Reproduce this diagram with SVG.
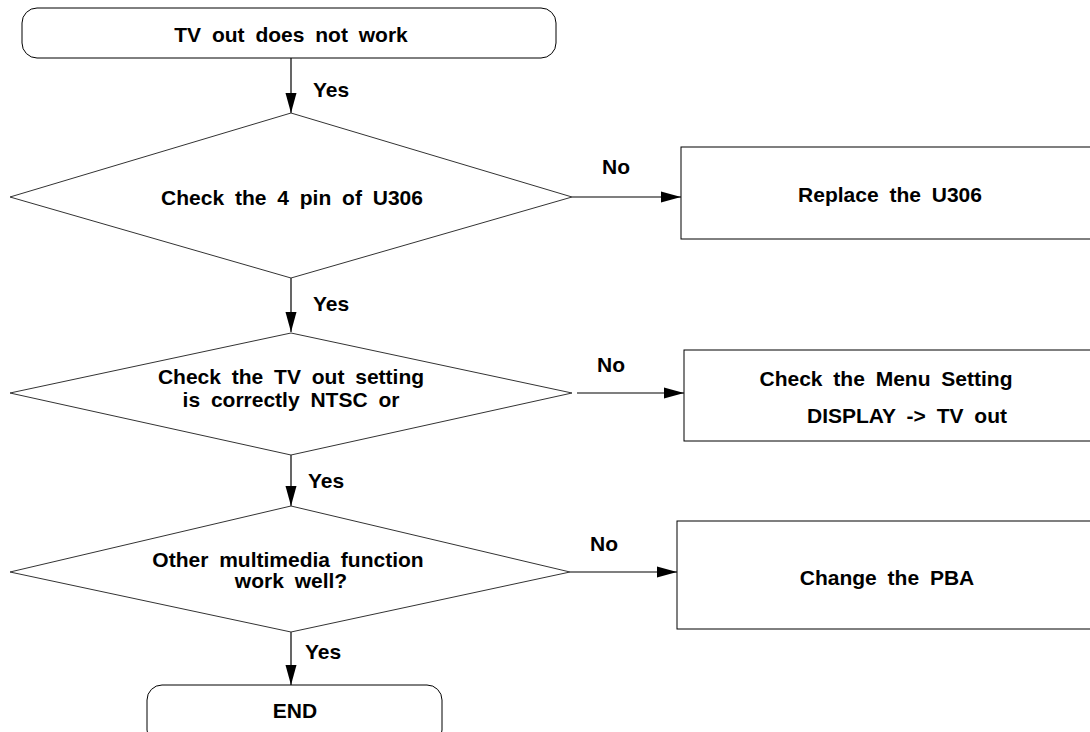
<svg xmlns="http://www.w3.org/2000/svg" width="1090" height="732" viewBox="0 0 1090 732">
<defs>
<marker id="ah" markerWidth="20" markerHeight="12" refX="20" refY="6" orient="auto" markerUnits="userSpaceOnUse">
<path d="M0,0.5 L20,6 L0,11.5 Z" fill="#000"/>
</marker>
<style>
.s{fill:#fff;stroke:#000;stroke-width:1}
.d{fill:#fff;stroke:#333;stroke-width:1}
.t{font-family:"Liberation Sans",Arial,sans-serif;font-size:21px;font-weight:bold;fill:#000;word-spacing:5px}
.c{text-anchor:middle}
.e{stroke:#000;stroke-width:1.2;fill:none}
</style>
</defs>
<rect width="1090" height="732" fill="#fff"/>
<g id="connectors">
<line class="e" x1="291" y1="58" x2="291" y2="113" marker-end="url(#ah)"/>
<line class="e" x1="291" y1="278" x2="291" y2="332" marker-end="url(#ah)"/>
<line class="e" x1="291" y1="455" x2="291" y2="506" marker-end="url(#ah)"/>
<line class="e" x1="291" y1="632" x2="291" y2="685" marker-end="url(#ah)"/>
<line class="e" x1="572" y1="197" x2="681" y2="197" marker-end="url(#ah)"/>
<line class="e" x1="577" y1="393" x2="684" y2="393" marker-end="url(#ah)"/>
<line class="e" x1="570" y1="572" x2="677" y2="572" marker-end="url(#ah)"/>
<text class="t" x="313" y="97">Yes</text>
<text class="t" x="313" y="311">Yes</text>
<text class="t" x="308" y="488">Yes</text>
<text class="t" x="305" y="659">Yes</text>
<text class="t" x="602" y="174">No</text>
<text class="t" x="597" y="372">No</text>
<text class="t" x="590" y="551">No</text>
</g>
<g id="start">
<rect class="s" x="22" y="8" width="534" height="50" rx="15"/>
<text class="t c" x="291" y="42">TV out does not work</text>
</g>
<g id="check4pin">
<polygon class="d" points="291,113 572,197 291,278 10,197"/>
<text class="t c" x="292" y="205">Check the 4 pin of U306</text>
</g>
<g id="replace">
<rect class="s" x="681" y="147" width="420" height="92"/>
<text class="t c" x="890" y="202">Replace the U306</text>
</g>
<g id="checkTV">
<polygon class="d" points="291,333 572,393 291,455 10,393"/>
<text class="t c" x="291" y="384">Check the TV out setting</text>
<text class="t c" x="291" y="407">is correctly NTSC or</text>
</g>
<g id="menu">
<rect class="s" x="684" y="350" width="420" height="91"/>
<text class="t c" x="886" y="386">Check the Menu Setting</text>
<text class="t c" x="907" y="423">DISPLAY -&gt; TV out</text>
</g>
<g id="multimedia">
<polygon class="d" points="291,506 570,572 291,632 10,572"/>
<text class="t c" x="288" y="567">Other multimedia function</text>
<text class="t c" x="291" y="588">work well?</text>
</g>
<g id="pba">
<rect class="s" x="677" y="521" width="420" height="108"/>
<text class="t c" x="887" y="585">Change the PBA</text>
</g>
<g id="end">
<rect class="s" x="147" y="685" width="295" height="60" rx="15"/>
<text class="t c" x="295" y="718">END</text>
</g>
</svg>
